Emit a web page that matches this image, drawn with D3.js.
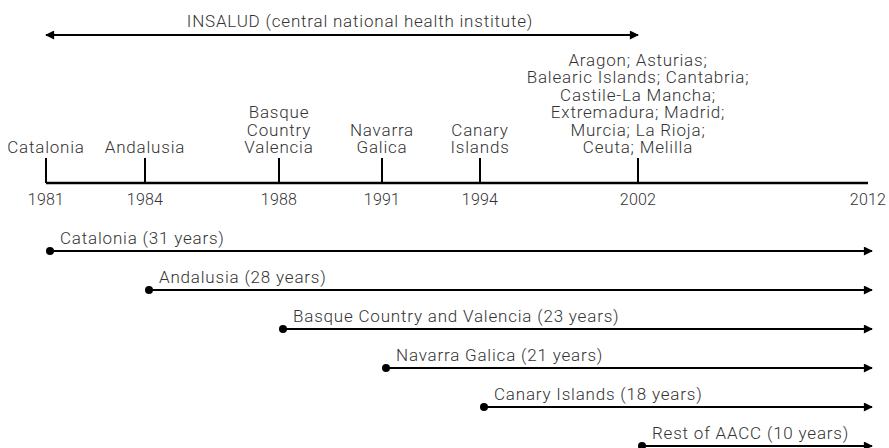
<!DOCTYPE html>
<html>
<head>
<meta charset="utf-8">
<script src="https://cdn.jsdelivr.net/npm/d3@7"></script>
<style>
    body { margin: 0; background: #fff; }
    text { font-family: Roboto, "Liberation Sans", sans-serif; font-weight: 300; fill: #333; }
    .label { font-size: 17px; letter-spacing: 0.8px; }
    .year-label { font-size: 16px; letter-spacing: 0.2px; }
</style>
</head>
<body>
<svg id="chart" width="889" height="448"></svg>
<script>
"use strict";

// timeline milestones (years on the axis)
let axisYears = [1981, 1984, 1988, 1991, 1994, 2002, 2012];

// regions that took over health care in each milestone year
let milestoneYears = [1981, 1984, 1988, 1991, 1994, 2002];
let milestoneLabels = [
    ["Catalonia"],
    ["Andalusia"],
    ["Basque", "Country", "Valencia"],
    ["Navarra", "Galica"],
    ["Canary", "Islands"],
    ["Aragon; Asturias;", "Balearic Islands; Cantabria;", "Castile-La Mancha;",
        "Extremadura; Madrid;", "Murcia; La Rioja;", "Ceuta; Melilla"]
];

// INSALUD period
let insaludLabel = "INSALUD (central national health institute)";
let insaludYears = [1981, 2002];

// periods of decentralised management
let periodNames = [
    "Catalonia (31 years)",
    "Andalusia (28 years)",
    "Basque Country and Valencia (23 years)",
    "Navarra Galica (21 years)",
    "Canary Islands (18 years)",
    "Rest of AACC (10 years)"
];
let periodStarts = [1981, 1984, 1988, 1991, 1994, 2002];
let periodEnd = 2012;

let TimelineChart = function(svgID) {
    let self = {
        svg: null,
        x: null,
        row: null,
        axisY: 183,
        lineHeight: 17.4
    };

    init();

    function init() {
        self.svg = d3.select(svgID);

        // hand-drawn timeline: spacing between years is not uniform
        self.x = d3.scaleLinear()
            .domain(axisYears)
            .range([46, 145, 279, 382, 480, 638, 868]);

        self.row = d3.scalePoint()
            .domain(periodNames)
            .range([251, 446]);

        let defs = self.svg.append("defs");
        defs.append("marker")
            .attr("id", "arrowHead")
            .attr("viewBox", "0 0 10 10")
            .attr("refX", 9)
            .attr("refY", 5)
            .attr("markerUnits", "userSpaceOnUse")
            .attr("markerWidth", 11)
            .attr("markerHeight", 9)
            .attr("orient", "auto-start-reverse")
            .append("path")
            .attr("d", "M0,0 L10,5 L0,10 Z")
            .style("fill", "#000");

        drawInsalud();
        drawAxis();
        drawPeriods();
    }

    function drawInsalud() {
        let x0 = self.x(insaludYears[0]);
        let x1 = self.x(insaludYears[1]);

        self.svg.append("line")
            .attr("x1", x0)
            .attr("x2", x1)
            .attr("y1", 35)
            .attr("y2", 35)
            .style("stroke", "#000")
            .style("stroke-width", 2)
            .attr("marker-start", "url(#arrowHead)")
            .attr("marker-end", "url(#arrowHead)");

        self.svg.append("text")
            .attr("class", "label")
            .attr("x", (x0 + x1) / 2 + 18)
            .attr("y", 27)
            .attr("text-anchor", "middle")
            .text(insaludLabel);
    }

    function drawAxis() {
        let g = self.svg.append("g").attr("class", "timeline-axis");

        g.append("line")
            .attr("x1", self.x(axisYears[0]))
            .attr("x2", self.x(axisYears[axisYears.length - 1]))
            .attr("y1", self.axisY)
            .attr("y2", self.axisY)
            .style("stroke", "#000")
            .style("stroke-width", 2.5);

        g.selectAll(".tick-mark")
            .data(milestoneYears)
            .enter().append("line")
            .attr("class", "tick-mark")
            .attr("x1", d => self.x(d))
            .attr("x2", d => self.x(d))
            .attr("y1", self.axisY - 25)
            .attr("y2", self.axisY)
            .style("stroke", "#000")
            .style("stroke-width", 2);

        g.selectAll(".year-label")
            .data(axisYears)
            .enter().append("text")
            .attr("class", "year-label")
            .attr("x", d => self.x(d))
            .attr("y", self.axisY + 22)
            .attr("text-anchor", "middle")
            .text(d => d);

        g.selectAll(".milestone-label")
            .data(milestoneYears)
            .enter().append("text")
            .attr("class", "milestone-label label")
            .attr("text-anchor", "middle")
            .each(function(d, i) {
                let lines = milestoneLabels[i];
                let n = lines.length;

                d3.select(this).selectAll("tspan")
                    .data(lines)
                    .enter().append("tspan")
                    .attr("x", self.x(d))
                    .attr("y", (l, j) => self.axisY - 30 - (n - 1 - j) * self.lineHeight)
                    .text(l => l);
            });
    }

    function drawPeriods() {
        let g = self.svg.append("g").attr("class", "periods");
        let shift = 4; // bars sit slightly right of the ticks

        let rows = g.selectAll(".period")
            .data(periodNames)
            .enter().append("g")
            .attr("class", "period");

        rows.append("line")
            .attr("x1", (d, i) => self.x(periodStarts[i]) + shift)
            .attr("x2", self.x(periodEnd) + shift)
            .attr("y1", d => self.row(d))
            .attr("y2", d => self.row(d))
            .style("stroke", "#000")
            .style("stroke-width", 2)
            .attr("marker-end", "url(#arrowHead)");

        rows.append("circle")
            .attr("cx", (d, i) => self.x(periodStarts[i]) + shift)
            .attr("cy", d => self.row(d))
            .attr("r", 4)
            .style("fill", "#000");

        rows.append("text")
            .attr("class", "label")
            .attr("x", (d, i) => self.x(periodStarts[i]) + shift + 10)
            .attr("y", d => self.row(d) - 7)
            .text(d => d);
    }

    return self;
};

TimelineChart("#chart");
</script>
</body>
</html>
